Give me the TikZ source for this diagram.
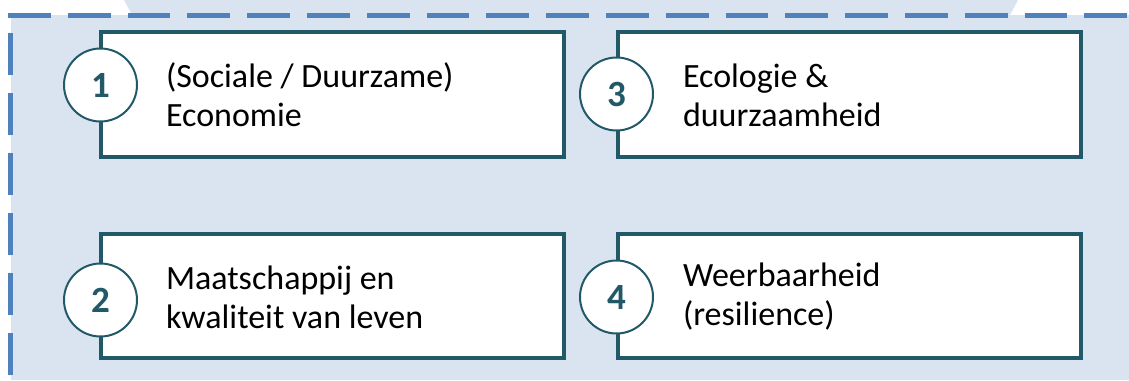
\documentclass[tikz,border=0pt]{standalone}
\usepackage{fontspec}
\setmainfont{Carlito}
\definecolor{bgblue}{HTML}{DAE3F0}
\definecolor{dashblue}{HTML}{4F81BD}
\definecolor{tealdark}{HTML}{215968}
\begin{document}
\begin{tikzpicture}[x=1pt,y=-1pt,
  card/.style={rectangle, draw=tealdark, line width=4.5pt, fill=white, minimum width=463pt,
    inner sep=0pt, outer sep=0pt, anchor=north west, line join=miter},
  num/.style={circle, draw=tealdark, line width=2pt, fill=white, minimum size=73pt,
    inner sep=0pt, outer sep=0pt, text=tealdark, font=\fontsize{37}{37}\selectfont\bfseries},
  lbl/.style={anchor=west, align=left, inner sep=0pt, outer sep=0pt,
    font=\fontsize{34}{39}\selectfont},
  border/.style={draw=dashblue, line width=5pt, dash pattern=on 42.8pt off 17pt}]
\useasboundingbox (0,0) rectangle (1129,380);
% background
\fill[bgblue] (10.5,15) rectangle (1129,380);
\fill[bgblue] (124,0) -- (1018,0) -- (1010,15) -- (132,15) -- cycle;
% dashed border
\coordinate (tl) at (8,15);
\coordinate (tr) at (1129,15);
\coordinate (ls) at (10.5,33);
\coordinate (lb) at (10.5,380);
\draw[border] (tl) -- (tr);
\draw[border, dash pattern=on 42pt off 18pt] (ls) -- (lb);
% cards
\node[card, minimum height=125pt] (b1) at (101,32) {};
\node[card, minimum height=125pt] (b3) at (618,32) {};
\node[card, minimum height=124pt] (b2) at (101,234) {};
\node[card, minimum height=124pt] (b4) at (618,234) {};
% numbers
\node[num] (n1) at (100.5,85) {1};
\node[num] (n3) at (616.5,94) {3};
\node[num] (n2) at (100.5,300) {2};
\node[num] (n4) at (616.5,297) {4};
% labels
\node[lbl] (t1) at (166,95) {(Sociale / Duurzame)\\Economie};
\node[lbl] (t3) at (683,95) {Ecologie \&\\duurzaamheid};
\node[lbl] (t2) at (166,297) {Maatschappij en\\kwaliteit van leven};
\node[lbl] (t4) at (683,297) {Weerbaarheid\\(resilience)};
\end{tikzpicture}
\end{document}
